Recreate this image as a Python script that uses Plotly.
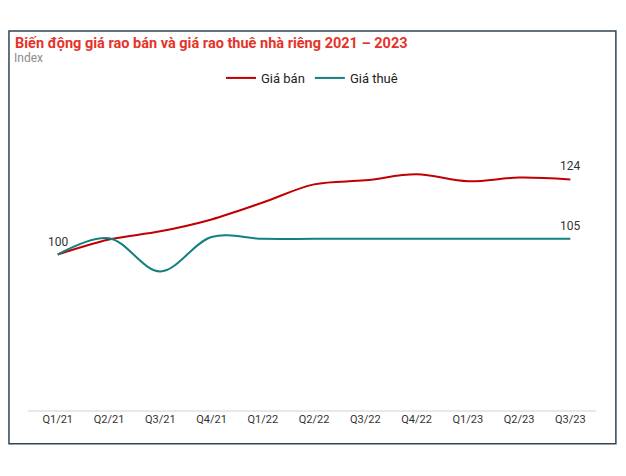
import plotly.graph_objects as go

# quarters on the x axis
quarters = ['Q1/21', 'Q2/21', 'Q3/21', 'Q4/21', 'Q1/22', 'Q2/22',
            'Q3/22', 'Q4/22', 'Q1/23', 'Q2/23', 'Q3/23']

# index values
gia_ban = [100, 104.8, 107.4, 111.2, 116.6, 122.4, 123.7, 125.6, 123.4, 124.6, 124]
gia_thue = [100, 105.2, 94.6, 105.6, 105, 105, 105, 105, 105, 105, 105]

RED = '#c00000'
TEAL = '#138080'
FONT = 'Roboto'

# page has an 8px body margin, so the figure is a bit smaller than the window
W, H = 618, 468

fig = go.Figure()

fig.add_trace(go.Scatter(x=quarters, y=gia_ban, name='Giá bán', mode='lines',
                         line=dict(color=RED, width=2, shape='spline', smoothing=1)))

fig.add_trace(go.Scatter(x=quarters, y=gia_thue, name='Giá thuê', mode='lines',
                         line=dict(color=TEAL, width=2, shape='spline', smoothing=1)))

# value labels on first / last points
labels = [(quarters[0], gia_ban[0]), (quarters[-1], gia_ban[-1]), (quarters[-1], gia_thue[-1])]
for qx, val in labels:
    fig.add_annotation(x=qx, y=val, text=str(round(val)), showarrow=False,
                       yshift=13, xanchor='center', yanchor='middle',
                       font=dict(family=FONT, size=12, color='#333333'))

# outer frame round the whole chart
fig.add_shape(type='rect', xref='paper', yref='paper',
              x0=-0.0335, x1=1.035, y0=-0.105, y1=1.214,
              line=dict(color='#2f4656', width=1.5))

fig.add_annotation(text='Index', xref='paper', yref='paper',
                   x=-0.029, y=1.128, xanchor='left', yanchor='middle',
                   showarrow=False, font=dict(family=FONT, size=12, color='#8c8c8c'))

fig.update_layout(
    width=W, height=H,
    margin=dict(l=20, r=30, t=90, b=65),
    paper_bgcolor='white', plot_bgcolor='white',
    font=dict(family=FONT, size=11, color='#333333'),
    title=dict(text='<b>Biến động giá rao bán và giá rao thuê nhà riêng 2021 – 2023</b>',
               xref='container', yref='container',
               x=7 / W, y=1 - 35 / H, xanchor='left', yanchor='middle',
               font=dict(family=FONT, size=14.5, color='#e5332a')),
    legend=dict(orientation='h', x=0.5, xanchor='center', y=1.064, yanchor='middle',
                font=dict(family=FONT, size=13, color='#222222'),
                itemwidth=30, bgcolor='rgba(0,0,0,0)'),
    showlegend=True,
)

fig.update_xaxes(range=[-0.58, 10.5], showgrid=False, zeroline=False,
                 showline=False, ticks='', tickfont=dict(size=11, color='#333333'))
fig.update_yaxes(range=[50, 150], showgrid=False, zeroline=False,
                 showticklabels=False, showline=False)

# light baseline under the plot
fig.add_shape(type='line', xref='paper', yref='paper', x0=0, x1=1, y0=0, y1=0,
              line=dict(color='#e0e0e0', width=1.5))

fig.write_html("out.html")
